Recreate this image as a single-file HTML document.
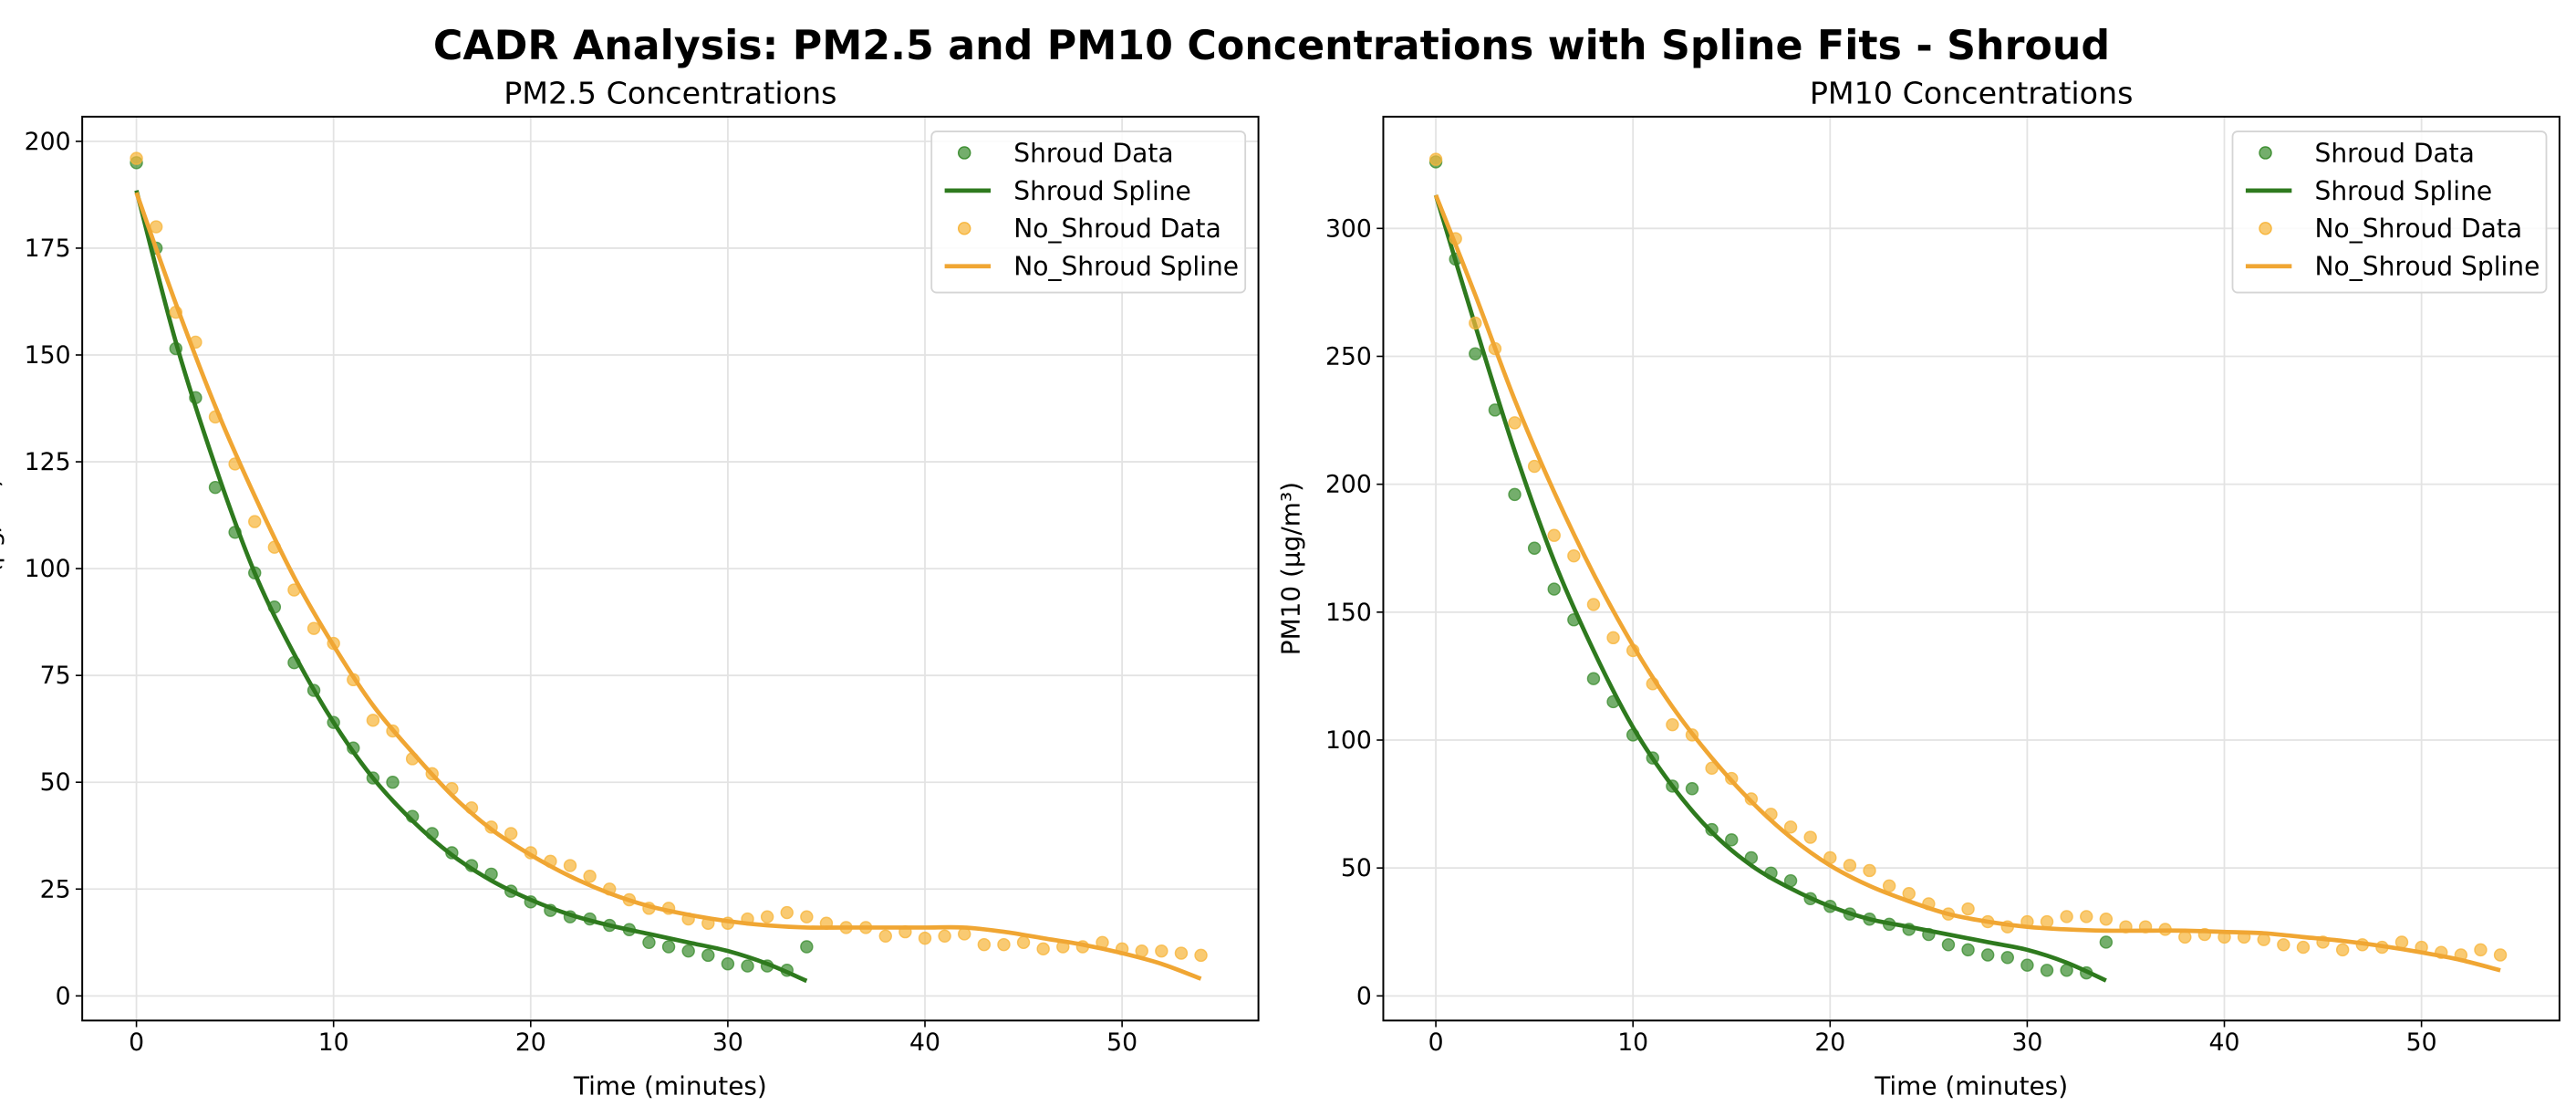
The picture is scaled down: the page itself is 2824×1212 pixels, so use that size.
<!DOCTYPE html>
<html><head><meta charset="utf-8"><style>
html,body{margin:0;padding:0;background:#fff;}
svg{display:block;font-family:"DejaVu Sans","Liberation Sans",sans-serif;}
</style></head><body>
<svg id="chart" width="2824" height="1212" viewBox="0 0 1568 673" xmlns="http://www.w3.org/2000/svg">
<text x="774" y="36" text-anchor="middle" font-size="24.6" font-weight="bold">CADR Analysis: PM2.5 and PM10 Concentrations with Spline Fits - Shroud</text>
</svg>
<script>
const xTicks = [0,10,20,30,40,50];
const pm25Ticks = [0,25,50,75,100,125,150,175,200];
const pm10Ticks = [0,50,100,150,200,250,300];
const shroudPm25 = [195,175,151.5,140,119,108.5,99,91,78,71.5,64,58,51,50,42,38,33.5,30.5,28.5,24.5,22,20,18.5,18,16.5,15.5,12.5,11.5,10.5,9.5,7.5,7,7,6,11.5];
const noShroudPm25 = [196,180,160,153,135.5,124.5,111,105,95,86,82.5,74,64.5,62,55.5,52,48.5,44,39.5,38,33.5,31.5,30.5,28,25,22.5,20.5,20.5,18,17,17,18,18.5,19.5,18.5,17,16,16,14,15,13.5,14,14.5,12,12,12.5,11,11.5,11.5,12.5,11,10.5,10.5,10,9.5];
const shroudPm25Spline = [188.5,153,124,99,80,64,51,41,33,27,22.5,19,16.5,14.5,12.5,10.5,7.5,3.5];
const noShroudPm25Spline = [188,162,138,117,98,82,68,57,47,39,33,28,24,21,19,17.5,16.5,16,16,16,16,16,15,13.5,12,10,7.5,4];
const shroudPm10 = [326,288,251,229,196,175,159,147,124,115,102,93,82,81,65,61,54,48,45,38,35,32,30,28,26,24,20,18,16,15,12,10,10,9,21];
const noShroudPm10 = [327,296,263,253,224,207,180,172,153,140,135,122,106,102,89,85,77,71,66,62,54,51,49,43,40,36,32,34,29,27,29,29,31,31,30,27,27,26,23,24,23,23,22,20,19,21,18,20,19,21,19,17,16,18,16];
const shroudPm10Spline = [313,262,213,170,135,105,82,64,51,42,35,30,27,24,21,18,13,6];
const noShroudPm10Spline = [313,274,233,197,165,137,113,93,76,62,51,43,37,32,29,27,26,25.5,25.5,25.5,25,24.5,23,21.5,19.5,17,14,10];
const splineStep = 2;

const NS='http://www.w3.org/2000/svg';
const svg=document.getElementById('chart');
function mk(tag,attrs,parent){const e=document.createElementNS(NS,tag);for(const k in attrs)e.setAttribute(k,attrs[k]);(parent||svg).appendChild(e);return e;}
const GREEN_LINE='#2e7a1e', GREEN_DOT='#3f8f33', ORANGE_LINE='#f0a633', ORANGE_DOT='#f7b53c';

function panel(p){
  const L=p.left,R=p.left+716,T=71,B=621;
  const xs=v=>p.x0+v*12;
  const ys=v=>606-(v-0)*p.ky;
  const g=mk('g',{});
  
  
  xTicks.forEach(t=>{const l=mk('line',{x1:xs(t),x2:xs(t),y1:T,y2:B,stroke:'#e3e3e3','stroke-width':1},g);
    });
  p.yTicks.forEach(t=>{const l=mk('line',{x1:L,x2:R,y1:ys(t),y2:ys(t),stroke:'#e3e3e3','stroke-width':1},g);
    });
  xTicks.forEach(t=>{mk('line',{x1:xs(t),x2:xs(t),y1:B,y2:B+4,stroke:'#000','stroke-width':0.9},g);
    const tx=mk('text',{x:xs(t),y:B+18,'text-anchor':'middle','font-size':14.8},g);tx.textContent=t;
    });
  p.yTicks.forEach(t=>{mk('line',{x1:L-4,x2:L,y1:ys(t),y2:ys(t),stroke:'#000','stroke-width':0.9},g);
    const tx=mk('text',{x:L-7,y:ys(t)+5,'text-anchor':'end','font-size':14.8},g);tx.textContent=t;
    });
  function dots(arr,fill,nm){arr.forEach((v,i)=>{const c=mk('circle',{cx:xs(i),cy:ys(v),r:3.6,fill:fill,'fill-opacity':0.72,stroke:fill,'stroke-opacity':0.8,'stroke-width':0.8},g);
    });}
  function spline(arr,col,nm){const pts=arr.map((v,i)=>[xs(i*splineStep),ys(v)]);
    let d='M'+pts[0][0]+','+pts[0][1];
    for(let i=0;i<pts.length-1;i++){const p0=pts[i-1]||pts[i],p1=pts[i],p2=pts[i+1],p3=pts[i+2]||p2;
      d+=' C'+(p1[0]+(p2[0]-p0[0])/6)+','+(p1[1]+(p2[1]-p0[1])/6)+' '+(p2[0]-(p3[0]-p1[0])/6)+','+(p2[1]-(p3[1]-p1[1])/6)+' '+p2[0]+','+p2[1];}
    const pa=mk('path',{d:d,fill:'none',stroke:col,'stroke-width':2.6},g);
    }
  dots(p.sd,GREEN_DOT,'shroud-data-point');
  spline(p.ss,GREEN_LINE,'shroud-spline');
  dots(p.nd,ORANGE_DOT,'no-shroud-data-point');
  spline(p.ns,ORANGE_LINE,'no-shroud-spline');
  const fr=mk('rect',{x:L,y:T,width:R-L,height:B-T,fill:'none',stroke:'#000','stroke-width':1.1},g);
  
  const st=mk('text',{x:(L+R)/2,y:63,'text-anchor':'middle','font-size':18.5},g);st.textContent=p.title;
  
  const xl=mk('text',{x:(L+R)/2,y:666,'text-anchor':'middle','font-size':15.5},g);xl.textContent='Time (minutes)';
  
  const yl=mk('text',{x:0,y:0,'text-anchor':'middle','font-size':15.5,transform:'translate('+p.ylx+',346) rotate(-90)'},g);yl.textContent=p.ylabel;
  
  const lg=mk('g',{},g);
  const lx=R-199, ly=80;
  mk('rect',{x:lx,y:ly,width:191,height:98,rx:3,fill:'#fff','fill-opacity':0.85,stroke:'#d5d5d5','stroke-width':1},lg);
  const ent=[['Shroud Data','dot',GREEN_DOT],['Shroud Spline','line',GREEN_LINE],['No_Shroud Data','dot',ORANGE_DOT],['No_Shroud Spline','line',ORANGE_LINE]];
  ent.forEach((e,i)=>{const yy=ly+13+i*23;const eg=mk('g',{},lg);
    
    if(e[1]=='dot')mk('circle',{cx:lx+20,cy:yy,r:3.6,fill:e[2],'fill-opacity':0.72,stroke:e[2],'stroke-width':0.8},eg);
    else mk('line',{x1:lx+8,x2:lx+36,y1:yy,y2:yy,stroke:e[2],'stroke-width':2.6},eg);
    const t=mk('text',{x:lx+50,y:yy+5.5,'font-size':15.6},eg);t.textContent=e[0];});
}
panel({name:'pm25-panel',left:50,x0:83,ky:2.6,yTicks:pm25Ticks,sd:shroudPm25,ss:shroudPm25Spline,nd:noShroudPm25,ns:noShroudPm25Spline,title:'PM2.5 Concentrations',ylabel:'PM2.5 (µg/m³)',ylx:-1});
panel({name:'pm10-panel',left:842,x0:874,ky:1.5567,yTicks:pm10Ticks,sd:shroudPm10,ss:shroudPm10Spline,nd:noShroudPm10,ns:noShroudPm10Spline,title:'PM10 Concentrations',ylabel:'PM10 (µg/m³)',ylx:791});
</script>
</body></html>
